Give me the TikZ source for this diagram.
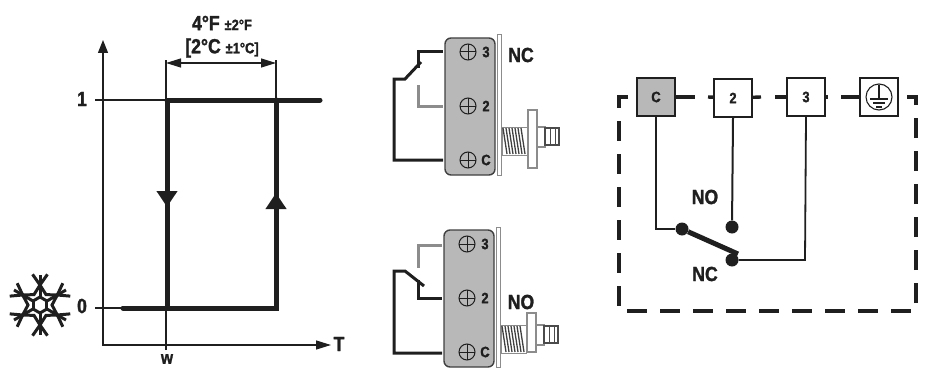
\documentclass[tikz,border=0pt]{standalone}
\usepackage{fontspec}
\setmainfont[FakeStretch=0.86,BoldFeatures={FakeBold=1.4}]{Liberation Sans}
\usetikzlibrary{arrows.meta}
\definecolor{boxgray}{gray}{0.72}
\definecolor{wiregray}{gray}{0.55}
\definecolor{inkblack}{gray}{0.12}
\newcommand{\bigtext}{\bfseries\fontsize{20.5}{20.5}\selectfont}
\newcommand{\midtext}{\bfseries\fontsize{15}{15}\selectfont}
\tikzset{
  thinline/.style={draw=inkblack,line width=1.3pt},
  curveline/.style={draw=inkblack,line width=5pt,line cap=round},
  wireline/.style={draw=inkblack,line width=3pt},
  offwire/.style={draw=wiregray,line width=3pt},
  label/.style={text=inkblack,inner sep=0pt},
  screw/.style={circle,draw=inkblack,line width=1pt,minimum size=16pt,inner sep=0pt,
    path picture={\draw[line width=1pt] (path picture bounding box.north) -- (path picture bounding box.south)
      (path picture bounding box.west) -- (path picture bounding box.east);}},
  termbox/.style={draw=inkblack,fill=white,line width=1.6pt,minimum size=38pt,inner sep=0pt,font=\midtext,text=inkblack},
  contact/.style={circle,fill=inkblack,minimum size=13pt,inner sep=0pt},
  frameline/.style={draw=inkblack,line width=3.4pt},
}
\newcommand{\microbody}[3]{
  \draw[wiregray,line width=1pt,fill=white] (497,-3) rectangle (501,137);
  \draw[inkblack!85,line width=1.4pt,fill=boxgray,rounded corners=6pt] (445,0) rectangle (495,137);
  \foreach \sy/\st in {14/3,68/2,122/C} {
    \node[screw] at (468,\sy) {};
    \node[label,font=\midtext] at (486,\sy) {\st};
  }
  % spring and plunger
  \draw[wiregray,line width=1pt,fill=white] (502,89+#1) rectangle (527,117+#1);
  \foreach \sx in {503,506,509,512,515,518,521}
    \draw[inkblack!85,line width=1.3pt] (\sx,90+#1) -- (\sx+4,116+#1);
  \draw[wiregray,line width=1.3pt,fill=white] (528,#2) rectangle (537,#3);
  \draw[wiregray,line width=1.2pt,fill=white] (537,89+#1) rectangle (545,109+#1);
  \draw[inkblack!80,line width=1.2pt,fill=white] (545,90+#1) rectangle (559,107+#1);
  \draw[inkblack!80,line width=1pt] (550,90+#1) -- (550,107+#1) (555,90+#1) -- (555,107+#1);
}
\begin{document}
\begin{tikzpicture}[x=1pt,y=-1pt]
  \useasboundingbox (0,0) rectangle (925,369);
  % graph
  \coordinate (origin) at (103,345);
  \coordinate (ytop) at (103,40);
  \coordinate (xend) at (331,345);
  \coordinate (tickone) at (95,100);
  \coordinate (tickzero) at (95,308);
  \coordinate (wlow) at (166,350);
  \coordinate (wtop) at (166,60);
  \coordinate (rtop) at (276,60);
  \coordinate (a) at (167,100);
  \coordinate (b) at (276,100);
  \coordinate (c) at (320,100);
  \coordinate (d) at (167,308);
  \coordinate (e) at (276,308);
  \coordinate (f) at (123,308);
  \coordinate (amid) at (167,207);
  \coordinate (bmid) at (276,193);
  \coordinate (dl) at (166,63);
  \coordinate (dr) at (276,63);
  \draw[thinline,{Triangle[length=13pt,width=10pt]}-{Triangle[length=15pt,width=9pt]}] (ytop) -- (origin) -- (xend);
  \draw[thinline] (tickone) -- (a);
  \draw[thinline] (tickzero) -- (f);
  \draw[thinline] (wlow) -- (wtop);
  \draw[thinline] (b) -- (rtop);
  \draw[thinline,{Triangle[length=15pt,width=9pt]}-{Triangle[length=15pt,width=9pt]}] (dl) -- (dr);
  \draw[curveline] (f) -- (e) -- (b);
  \draw[curveline,line cap=butt] (a) -- (d);
  \draw[curveline] (a) -- (c);
  \draw[curveline,line cap=butt,-{Triangle[length=16pt,width=20pt]}] (a) -- (amid);
  \draw[curveline,line cap=butt,-{Triangle[length=16pt,width=20pt]}] (e) -- (bmid);
  \node[label,font=\bigtext] (one) at (82,99) {1};
  \node[label,font=\bigtext] (zero) at (82,306) {0};
  \node[label,font=\bigtext] (axisT) at (339,344) {T};
  \node[label,font=\bfseries\fontsize{18}{18}\selectfont] (axisw) at (167,359) {w};
  \node[label] (spanF) at (222,23) {\bigtext 4°F \midtext ±2°F};
  \node[label] (spanC) at (222,48) {\bigtext [2°C \midtext ±1°C]};
  % snowflake
  \begin{scope}[shift={(40,305)},inkblack,line width=3pt]
    \foreach \ang in {30,90,150,210,270,330} {
      \draw (\ang:8) -- (\ang:30);
      \draw (\ang:20) -- ++(\ang+35:13);
      \draw (\ang:20) -- ++(\ang-35:13);
      \draw (\ang:8) -- (\ang+60:8);
      \draw (\ang:20) -- (\ang+30:12) -- (\ang+60:20);
    }
  \end{scope}
  % closed contact switch
  \begin{scope}[shift={(0,38)}]
    \microbody{0}{72}{130}
  \end{scope}
  \node[label,font=\bigtext] (labelNC) at (521,55) {NC};
  \coordinate (nct) at (443,52);
  \coordinate (nctb) at (418,52);
  \coordinate (ncte) at (418,68);
  \coordinate (ncsw) at (421,62);
  \coordinate (ncpv) at (405,79);
  \coordinate (nclf) at (394,79);
  \coordinate (nclb) at (394,160);
  \coordinate (ncc) at (443,160);
  \coordinate (ncot) at (418,85);
  \coordinate (ncob) at (418,106);
  \coordinate (nco) at (443,106);
  \draw[wireline] (nct) -- (nctb) -- (ncte);
  \draw[wireline] (ncsw) -- (ncpv) -- (nclf) -- (nclb) -- (ncc);
  \draw[offwire] (ncot) -- (ncob) -- (nco);
  % open contact switch
  \begin{scope}[shift={(-1,230)}]
    \microbody{6}{83}{122}
  \end{scope}
  \node[label,font=\bigtext,fill=white,inner sep=1pt] (labelNO) at (521,302) {NO};
  \coordinate (not) at (442,245);
  \coordinate (notb) at (418,245);
  \coordinate (note) at (418,268);
  \coordinate (nosw) at (424,286);
  \coordinate (nopv) at (405,271);
  \coordinate (nolf) at (394,271);
  \coordinate (nolb) at (394,353);
  \coordinate (noc) at (442,353);
  \coordinate (noot) at (418,280);
  \coordinate (noob) at (418,298);
  \coordinate (noo) at (442,298);
  \draw[offwire] (not) -- (notb) -- (note);
  \draw[wireline] (nosw) -- (nopv) -- (nolf) -- (nolb) -- (noc);
  \draw[wireline] (noot) -- (noob) -- (noo);
  % wiring scheme
  \coordinate (frtl) at (628,97);
  \coordinate (frtlc) at (619,97);
  \coordinate (frbl) at (619,311);
  \coordinate (frbr) at (916,311);
  \coordinate (frtr) at (916,97);
  \coordinate (frtre) at (907,97);
  \draw[frameline,dash pattern=on 20pt off 13pt] (frtl) -- (frtlc) -- (frbl) -- (frbr) -- (frtr) -- (frtre);
  \node[termbox,fill=boxgray] (termC) at (656,97) {C};
  \node[termbox] (term2) at (733,98) {2};
  \node[termbox] (term3) at (806,97) {3};
  \node[termbox] (termG) at (879,97) {};
  \coordinate (g1) at (695,97);
  \coordinate (g2) at (708,97);
  \coordinate (g3) at (761,97);
  \coordinate (g4) at (775,97);
  \coordinate (g5) at (828,97);
  \coordinate (g6) at (841,97);
  \draw[frameline] (termC) -- (g1);
  \draw[frameline] (g2) -- (term2);
  \draw[frameline] (term2) -- (g3);
  \draw[frameline] (g4) -- (term3);
  \draw[frameline] (term3) -- (g5);
  \draw[frameline] (g6) -- (termG);
  \begin{scope}[shift={(879,97)},inkblack,line width=1.1pt]
    \draw (0,0) circle (13);
    \draw (0,-12) -- (0,2);
    \draw (-9,2) -- (9,2);
    \draw (-6,6) -- (6,6);
    \draw (-3,10) -- (3,10);
  \end{scope}
  \node[contact] (pivot) at (682,229) {};
  \node[contact] (contactNO) at (732,227) {};
  \node[contact] (contactNC) at (732,260) {};
  \coordinate (blade) at (738,254);
  \coordinate (cbend) at (656,229);
  \coordinate (nbend) at (805,260);
  \draw[thinline,line width=1.5pt] (termC.south) -- (cbend) -- (pivot);
  \draw[thinline,line width=2pt] (term2.south) -- (contactNO);
  \draw[thinline,line width=1.8pt] (term3.south) -- (nbend) -- (contactNC);
  \draw[curveline,line cap=butt] (pivot) -- (blade);
  \node[label,font=\bigtext] (textNO) at (705,197) {NO};
  \node[label,font=\bigtext] (textNC) at (705,274) {NC};
\end{tikzpicture}
\end{document}
